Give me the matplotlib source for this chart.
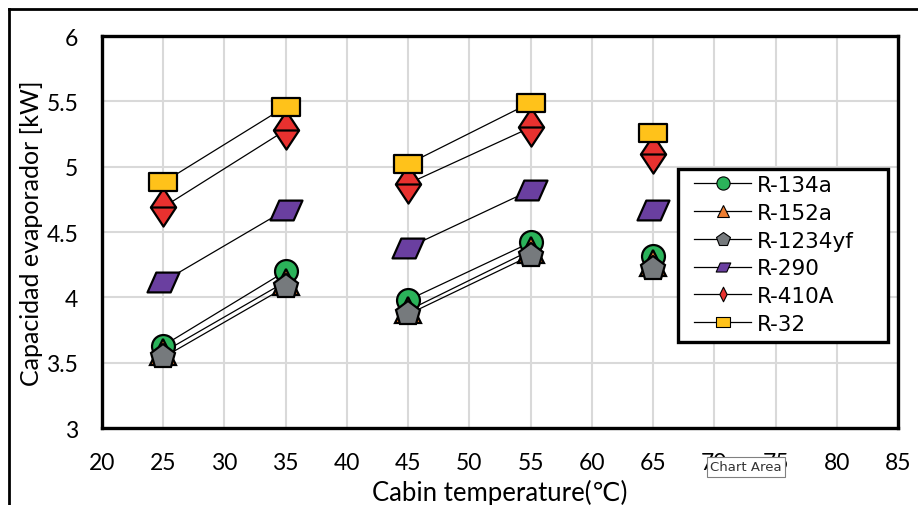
import numpy as np
import matplotlib
matplotlib.use("Agg")
import matplotlib.pyplot as plt
from matplotlib.path import Path
from matplotlib.markers import MarkerStyle
from matplotlib.lines import Line2D
from matplotlib.patches import Rectangle

# ---------------- data ----------------
cabin_temp = [25, 35, 45, 55, 65]
r134a   = [3.63, 4.20, 3.98, 4.42, 4.32]
r152a   = [3.58, 4.12, 3.90, 4.36, 4.26]
r1234yf = [3.54, 4.08, 3.87, 4.32, 4.22]
r290    = [4.12, 4.67, 4.38, 4.82, 4.67]
r410a   = [4.69, 5.28, 4.87, 5.30, 5.10]
r32     = [4.88, 5.46, 5.02, 5.49, 5.26]
series_names = ["R-134a", "R-152a", "R-1234yf", "R-290", "R-410A", "R-32"]
segments = [(0, 2), (2, 4)]   # connected pairs of points
x_ticks = [20, 25, 30, 35, 40, 45, 50, 55, 60, 65, 70, 75, 80, 85]
y_ticks = [3, 3.5, 4, 4.5, 5, 5.5, 6]

# ---------------- custom marker shapes ----------------
diamond_split = Path(
    [(0, 1), (0.66, 0), (0, -1), (-0.66, 0), (0, 1), (-0.66, 0), (0.66, 0)],
    [Path.MOVETO, Path.LINETO, Path.LINETO, Path.LINETO, Path.CLOSEPOLY,
     Path.MOVETO, Path.LINETO])
thin_diamond = Path([(0, 1), (0.5, 0), (0, -1), (-0.5, 0), (0, 1)],
                    [Path.MOVETO, Path.LINETO, Path.LINETO, Path.LINETO, Path.CLOSEPOLY])
wide_rect = Path([(-1, -0.66), (1, -0.66), (1, 0.66), (-1, 0.66), (-1, -0.66)],
                 [Path.MOVETO, Path.LINETO, Path.LINETO, Path.LINETO, Path.CLOSEPOLY])
parallelogram = Path([(-1, -0.62), (0.45, -0.62), (1, 0.62), (-0.45, 0.62), (-1, -0.62)],
                     [Path.MOVETO, Path.LINETO, Path.LINETO, Path.LINETO, Path.CLOSEPOLY])

def ms(p, join="miter"):
    return MarkerStyle(p, joinstyle=join)

styles = [
    # values, marker, color, size(pt), legend marker, legend size
    (r134a,   "o",                "#2bb35a", 16.5, "o",                 9.5),
    (r152a,   "^",                "#ed7d31", 18.5, "^",                 8.5),
    (r1234yf, "p",                "#767a7d", 18.5, "p",                10.5),
    (r290,    parallelogram,      "#6a3fa0", 23.0, parallelogram,      10.5),
    (r410a,   diamond_split,      "#e8312f", 27.5, thin_diamond,       10.5),
    (r32,     ms(wide_rect, "round"), "#ffc21a", 19.5, ms(wide_rect, "round"), 10),
]

fig = plt.figure(figsize=(9.18, 5.06), dpi=100)
W, H = 918, 506
ax = fig.add_axes([102 / W, (H - 429) / H, (898 - 102) / W, (429 - 37) / H])

x = np.array(cabin_temp, dtype=float)
handles = []
for i, (vals, mk, col, size, lmk, lsize) in enumerate(styles):
    v = np.array(vals, dtype=float)
    for a, b in segments:
        ax.plot(x[a:b], v[a:b], color="black", lw=0.9, zorder=2 + i * 0.01)
    ax.plot(x, v, linestyle="none", marker=mk, markersize=size,
            markerfacecolor=col, markeredgecolor="black", markeredgewidth=1.6,
            zorder=3 + i)
    handles.append(Line2D([0], [0], color="black", lw=0.9, marker=lmk,
                          markersize=lsize, markerfacecolor=col,
                          markeredgecolor="black", markeredgewidth=0.8))

ax.set_xlim(20, 85)
ax.set_ylim(3, 6)
ax.set_xticks(x_ticks)
ax.set_yticks(y_ticks)
ax.set_xticklabels([str(t) for t in x_ticks])
ax.set_yticklabels([f"{t:g}" for t in y_ticks])
ax.grid(True, color="#d9d9d9", lw=1.5, zorder=0)
ax.set_axisbelow(True)
ax.tick_params(length=0, labelsize=16.5, pad=17)
for lab in ax.get_xticklabels() + ax.get_yticklabels():
    lab.set_fontfamily("Lato")
ax.tick_params(axis="x", pad=17)
for s in ax.spines.values():
    s.set_linewidth(2.4)
    s.set_color("black")
    s.set_zorder(10)

ax.set_xlabel("Cabin temperature(\u2103)", fontsize=18.5, family=["Lato", "DejaVu Sans"])
ax.set_ylabel("Capacidad evaporador [kW]", fontsize=18, family=["Lato", "DejaVu Sans"])
ax.xaxis.set_label_coords(0.5, (429 - 493) / (429 - 37))
ax.xaxis.label.set_verticalalignment("center")
ax.yaxis.set_label_coords((32 - 102) / (898 - 102), 0.5)
ax.yaxis.label.set_verticalalignment("center")

# legend box (fixed size, like the reference) + frameless legend inside
fig.add_artist(Rectangle((678 / W, 1 - 343 / H), (888 - 678) / W, (343 - 170) / H,
                         transform=fig.transFigure, facecolor="white",
                         edgecolor="black", lw=2.4, zorder=19))
leg = fig.legend(handles, series_names, loc="upper left",
                 bbox_to_anchor=(694 / W, 1 - 176 / H),
                 bbox_transform=fig.transFigure,
                 frameon=False,
                 prop={"family": "DejaVu Sans", "size": 15.5},
                 handlelength=2.65, handletextpad=0.28, labelspacing=0.36,
                 borderpad=0.0, borderaxespad=0)
leg.set_zorder(20)

# outer chart frame
fig.add_artist(Line2D([9 / W, 9 / W], [0, 1 - 10 / H], color="black", lw=2,
                      transform=fig.transFigure))
fig.add_artist(Line2D([9 / W, 1], [1 - 10 / H, 1 - 10 / H], color="black", lw=2,
                      transform=fig.transFigure))

# tooltip text
fig.text(746 / W, 1 - 468 / H, "Chart Area", fontsize=9.5, family="Liberation Sans Narrow",
         ha="center", va="center", color="#333333", zorder=30,
         bbox=dict(boxstyle="square,pad=0.25", fc="white", ec="#808080", lw=0.8))

fig.savefig("out.png", dpi=100)
